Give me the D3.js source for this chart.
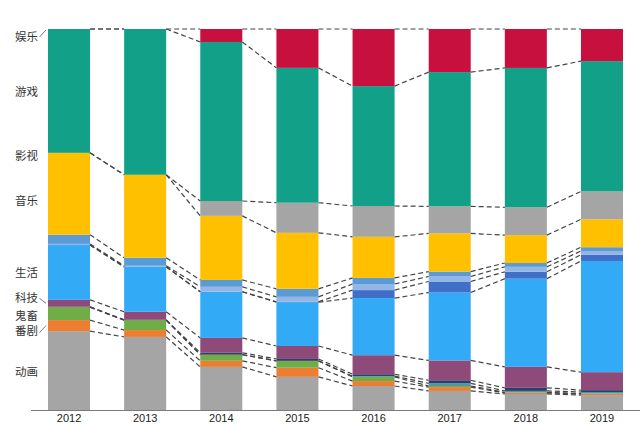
<!DOCTYPE html>
<html><head><meta charset="utf-8">
<script src="https://cdn.jsdelivr.net/npm/d3@7/dist/d3.min.js"></script>
<style>html,body{margin:0;padding:0;background:#fff}</style>
</head><body>
<svg id="chart" width="640" height="424"></svg>
<script>
// ---- data (share %, bottom to top) ----
const years = ["2012","2013","2014","2015","2016","2017","2018","2019"];
const anime      = [20.7, 19.2, 11.3, 8.7, 6.3, 5.0, 4.2, 3.9];   // 动画
const bangumi    = [2.9, 1.8, 1.6, 2.4, 1.3, 1.0, 0.3, 0.3];      // 番剧
const kichiku    = [3.4, 2.6, 1.6, 1.8, 1.1, 0.3, 0.1, 0.1];      // 鬼畜
const dance      = [0, 0, 0, 0, 0.2, 0.7, 0.4, 0.4];              // 舞蹈
const guochuang  = [0.1, 0.1, 0.5, 0.5, 0.5, 0.8, 0.8, 0.5];      // 国创
const tech       = [1.8, 2.1, 3.9, 3.4, 5.0, 5.2, 5.5, 4.7];      // 科技
const life       = [14.4, 11.8, 12.1, 11.5, 15.0, 17.8, 23.1, 29.1]; // 生活
const digital    = [0, 0, 0, 0.1, 2.1, 2.9, 1.8, 1.6];            // 数码
const fashion    = [0.3, 0.3, 1.3, 1.3, 1.6, 1.3, 1.3, 1.0];      // 时尚
const ads        = [2.4, 2.1, 1.8, 2.1, 1.6, 1.3, 1.0, 1.0];      // 广告
const music      = [21.5, 21.8, 16.8, 14.7, 10.8, 10.0, 7.3, 7.3]; // 音乐
const film       = [0, 0, 3.9, 7.9, 8.1, 7.1, 7.3, 7.3];          // 影视
const game       = [32.5, 38.3, 41.7, 35.4, 31.5, 35.2, 36.5, 34.1]; // 游戏
const ent        = [0, 0, 3.4, 10.2, 15.0, 11.3, 10.2, 8.4];      // 娱乐

const keys   = ["动画","番剧","鬼畜","舞蹈","国创","科技","生活","数码","时尚","广告","音乐","影视","游戏","娱乐"];
const series = [anime, bangumi, kichiku, dance, guochuang, tech, life, digital, fashion, ads, music, film, game, ent];
const colors = ["#a5a5a5","#ed7d31","#70ad47","#4f97a3","#2b3f6e","#8e4a78","#33aaf5","#3f6fc6","#93b6e6","#5b9bd5","#ffc000","#a5a5a5","#12a088","#c8103e"];
const labeled = ["动画","番剧","鬼畜","科技","生活","音乐","影视","游戏","娱乐"];
const labelNudge = {"动画":0,"番剧":4,"鬼畜":1,"科技":-6,"生活":0,"音乐":6,"影视":2,"游戏":0,"娱乐":7};
const leaders = ["娱乐","科技","番剧"];

// ---- build ----
const rows = years.map((yr, i) => {
  const r = {year: yr};
  keys.forEach((k, j) => r[k] = series[j][i]);
  return r;
});
const stacked = d3.stack().keys(keys).offset(d3.stackOffsetExpand)(rows);

const svg = d3.select("#chart");
const x = d3.scaleBand().domain(years).range([48, 623]).paddingInner(0.448).paddingOuter(0);
const y = d3.scaleLinear().domain([0, 1]).range([410, 29]);
const color = d3.scaleOrdinal().domain(keys).range(colors);
const bw = x.bandwidth();

// bars
svg.append("g").selectAll("g").data(stacked).join("g")
  .attr("fill", d => color(d.key))
  .selectAll("rect").data(d => d).join("rect")
  .attr("x", d => x(d.data.year))
  .attr("y", d => y(d[1]))
  .attr("width", bw)
  .attr("height", d => Math.max(0, y(d[0]) - y(d[1])));

// dashed connectors
const conn = svg.append("g").attr("fill","none").attr("stroke","#444")
  .attr("stroke-width",1.2).attr("stroke-dasharray","5,3");
stacked.forEach(layer => {
  for (let i = 0; i < years.length - 1; i++) {
    conn.append("line")
      .attr("x1", x(years[i]) + bw).attr("y1", y(layer[i][1]))
      .attr("x2", x(years[i+1])).attr("y2", y(layer[i+1][1]));
  }
});

// axis
svg.append("line").attr("x1",31).attr("x2",640).attr("y1",410.5).attr("y2",410.5)
  .attr("stroke","#7a7a7a").attr("stroke-width",1);
const ax = svg.append("g").attr("transform","translate(0,410)")
  .call(d3.axisBottom(x).tickSize(0).tickPadding(4));
ax.select(".domain").remove();
ax.selectAll("text").attr("font-family","'Liberation Sans', Arial, sans-serif")
  .attr("font-size",11).attr("fill","#222");

// left labels
const first = {};
stacked.forEach(l => first[l.key] = l[0]);
labeled.forEach(k => {
  const s = first[k];
  const ly = (y(s[0]) + y(s[1])) / 2 + labelNudge[k];
  svg.append("text").attr("x", 38).attr("y", ly)
    .attr("text-anchor","end").attr("dominant-baseline","central")
    .attr("font-family","'Noto Sans CJK SC', sans-serif").attr("font-size",11.5)
    .attr("fill","#333").text(k);
});
leaders.forEach(k => {
  const s = first[k];
  const ly = (y(s[0]) + y(s[1])) / 2 + labelNudge[k];
  const ty = k === "娱乐" ? y(s[1]) + 1 : (y(s[0]) + y(s[1])) / 2;
  svg.append("line").attr("x1", 39.5).attr("y1", ly + (k === "番剧" ? 3 : 1))
    .attr("x2", 46).attr("y2", ty)
    .attr("stroke","#555").attr("stroke-width",0.8);
});
</script>
</body></html>
